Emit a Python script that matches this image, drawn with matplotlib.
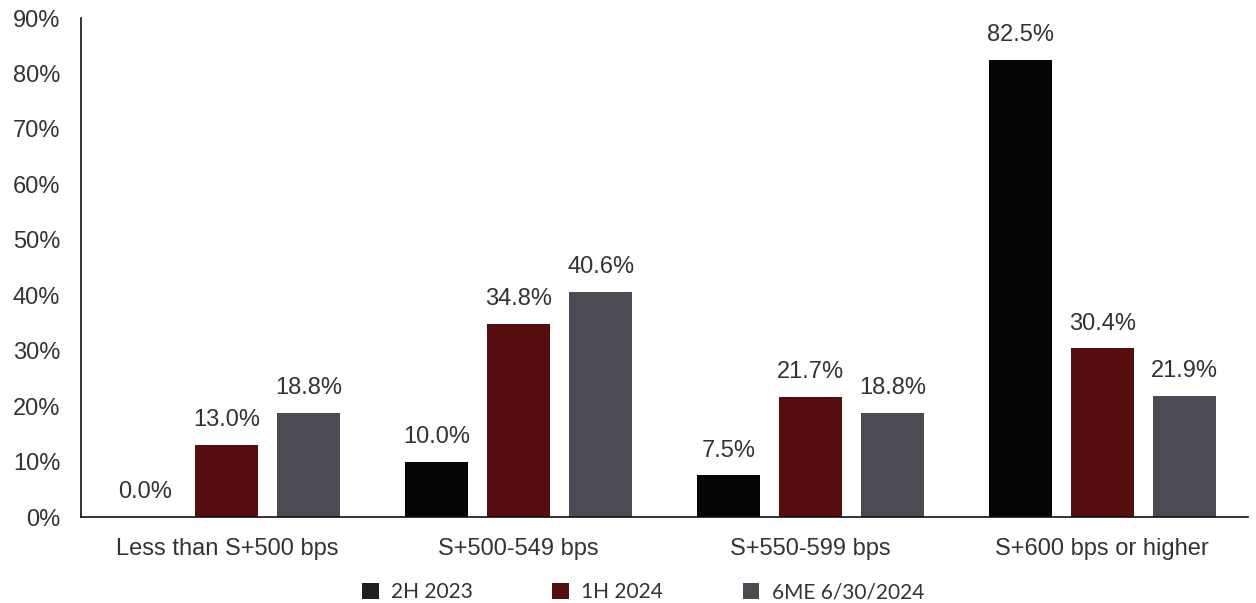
import numpy as np
import matplotlib.pyplot as plt
from matplotlib.patches import Patch

# spread buckets and share of deals per period
categories = ['Less than S+500 bps', 'S+500-549 bps', 'S+550-599 bps', 'S+600 bps or higher']
series_names = ['2H 2023', '1H 2024', '6ME 6/30/2024']
h2_2023 = [0.0, 10.0, 7.5, 82.5]
h1_2024 = [13.0, 34.8, 21.7, 30.4]
me6_2024 = [18.8, 40.6, 18.8, 21.9]
y_ticks = [0, 10, 20, 30, 40, 50, 60, 70, 80, 90]

colors = ['#050505', '#560d0e', '#4b4b53']
legend_colors = ['#231f20', '#560d0e', '#4b4b53']
text_color = '#333333'

plt.rcParams['font.family'] = ['Liberation Sans', 'DejaVu Sans']

fig = plt.figure(figsize=(12.56, 6.03), dpi=100)
ax = fig.add_axes([0.0645, 0.1426, 0.9291, 0.8274])

x = np.arange(len(categories))
width = 0.216
offset = 0.281

for i, vals in enumerate([h2_2023, h1_2024, me6_2024]):
    pos = x + (i - 1) * offset
    ax.bar(pos, vals, width=width, color=colors[i], zorder=2)
    for px, v in zip(pos, vals):
        ax.annotate(f'{v:.1f}%', (px, v), xytext=(0, 10), textcoords='offset points',
                    ha='center', va='bottom', fontsize=17, color=text_color)

ax.set_xlim(-0.5, len(categories) - 0.5)
ax.set_ylim(0, 90)
ax.set_yticks(y_ticks)
ax.set_yticklabels([f'{t}%' for t in y_ticks])
ax.set_xticks(x)
ax.set_xticklabels(categories)
ax.tick_params(axis='both', length=0, labelsize=17, labelcolor=text_color)
ax.tick_params(axis='y', pad=15)
ax.tick_params(axis='x', pad=15)

for side in ['top', 'right']:
    ax.spines[side].set_visible(False)
for side in ['left', 'bottom']:
    ax.spines[side].set_color('#111111')
    ax.spines[side].set_linewidth(1.2)

handles = [Patch(facecolor=c, edgecolor='none') for c in legend_colors]
fig.legend(handles, series_names, loc='lower center', ncol=3, frameon=False,
           bbox_to_anchor=(0.512, -0.03), handlelength=0.8, handleheight=0.8,
           handletextpad=0.6, columnspacing=3.8,
           prop={'family': 'Lato', 'size': 15}, labelcolor=text_color)

fig.savefig('out.png', dpi=100)
